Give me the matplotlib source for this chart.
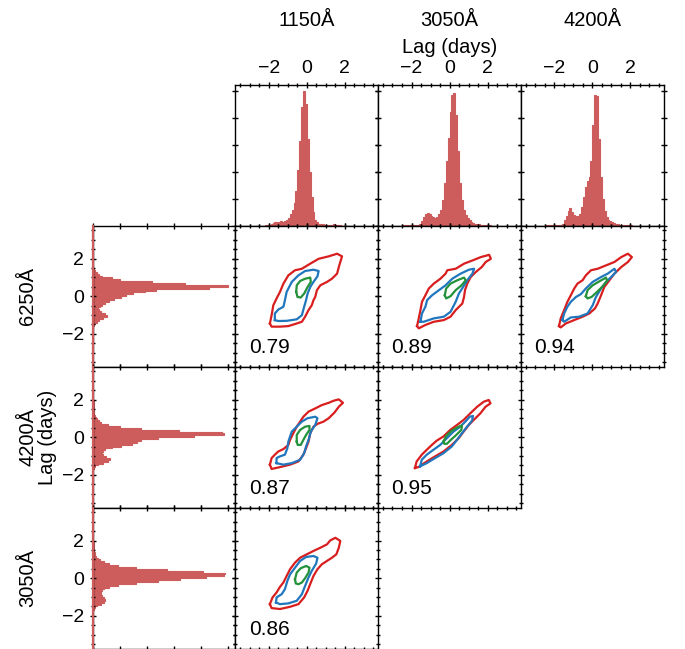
import numpy as np
import matplotlib
matplotlib.use('Agg')
import matplotlib.pyplot as plt
from matplotlib.ticker import MultipleLocator, FixedLocator

plt.rcParams['font.family'] = ['Liberation Sans', 'DejaVu Sans']

# ---------------- data ----------------
col_bands = ['1150Å', '3050Å', '4200Å']
row_bands = ['6250Å', '4200Å', '3050Å']
lag_ticks = [-2, 0, 2]

bin_edges = np.round(np.linspace(-2.5, 2.5, 51), 2)

hist_1150 = [0, 0, 0, 0.002, 0.005, 0.008, 0.012, 0.018, 0.024, 0.028,
             0.030, 0.032, 0.030, 0.032, 0.042, 0.058, 0.085, 0.12, 0.17, 0.26,
             0.41, 0.63, 0.88, 1.00, 0.90, 0.64, 0.40, 0.21, 0.10, 0.045,
             0.025, 0.016, 0.012, 0.010, 0.008, 0.008, 0.007, 0.007, 0.008, 0.010,
             0.008, 0.005, 0.003, 0.001, 0, 0, 0, 0, 0, 0]
hist_3050 = [0.002, 0.002, 0.002, 0.003, 0.003, 0.003, 0.004, 0.005, 0.008, 0.015,
             0.035, 0.065, 0.085, 0.092, 0.085, 0.070, 0.062, 0.060, 0.068, 0.085,
             0.12, 0.19, 0.32, 0.48, 0.65, 0.84, 0.97, 0.98, 0.82, 0.55,
             0.32, 0.19, 0.12, 0.08, 0.055, 0.04, 0.028, 0.02, 0.015, 0.012,
             0.01, 0.008, 0.007, 0.006, 0.005, 0.004, 0.002, 0, 0, 0]
hist_4200 = [0.002, 0.002, 0.002, 0.002, 0.003, 0.003, 0.004, 0.005, 0.008, 0.015,
             0.040, 0.075, 0.11, 0.13, 0.10, 0.078, 0.072, 0.075, 0.09, 0.14,
             0.21, 0.29, 0.33, 0.36, 0.48, 0.75, 0.97, 0.96, 0.64, 0.36,
             0.20, 0.11, 0.065, 0.045, 0.032, 0.024, 0.018, 0.013, 0.010, 0.008,
             0.007, 0.006, 0.006, 0.007, 0.006, 0.004, 0.001, 0, 0, 0]
hist_6250 = [0, 0, 0, 0.001, 0.001, 0.002, 0.002, 0.003, 0.004, 0.008,
             0.020, 0.030, 0.045, 0.075, 0.105, 0.09, 0.058, 0.048, 0.042, 0.055,
             0.068, 0.090, 0.12, 0.16, 0.21, 0.25, 0.30, 0.39, 0.47, 0.86,
             1.00, 0.68, 0.44, 0.20, 0.14, 0.07, 0.048, 0.032, 0.018, 0.010,
             0.004, 0.002, 0, 0, 0, 0, 0, 0, 0, 0]
hist_ticks = [0, 0.2, 0.4, 0.6, 0.8, 1.0]

corr_row1 = [0.79, 0.89, 0.94]
corr_row2 = [0.87, 0.95]
corr_row3 = [0.86]

# contour outlines (x lag, y lag)
# panel x=1150, y=6250
red_1150_6250 = [(-1.94, -1.45), (-1.85, -1.01), (-1.76, -0.48), (-1.59, -0.12), (-1.41, 0.23),
                 (-1.23, 0.67), (-0.97, 1.11), (-0.62, 1.38), (-0.26, 1.46), (0.18, 1.73),
                 (0.62, 1.99), (1.15, 2.12), (1.59, 2.26), (1.85, 2.12), (1.76, 1.82),
                 (1.68, 1.55), (1.59, 1.20), (1.32, 0.93), (1.06, 0.76), (0.71, 0.58),
                 (0.53, 0.32), (0.44, -0.04), (0.35, -0.21), (0.26, -0.48), (0.09, -0.74),
                 (-0.09, -1.09), (-0.26, -1.36), (-0.62, -1.48), (-0.97, -1.59), (-1.41, -1.62),
                 (-1.85, -1.62)]
blue_1150_6250 = [(-1.68, -1.27), (-1.68, -0.92), (-1.50, -0.71), (-1.23, -0.56), (-1.15, -0.21),
                  (-1.06, 0.23), (-0.79, 0.76), (-0.44, 1.11), (-0.09, 1.34), (0.35, 1.41),
                  (0.62, 1.34), (0.56, 1.06), (0.35, 0.76), (0.18, 0.49), (0.04, 0.14),
                  (-0.04, -0.21), (-0.14, -0.56), (-0.26, -1.01), (-0.53, -1.23), (-1.06, -1.31),
                  (-1.50, -1.32)]
green_1150_6250 = [(-0.56, 0.23), (-0.53, 0.58), (-0.35, 0.81), (-0.09, 0.93), (0.18, 0.99),
                   (0.21, 0.76), (0.04, 0.49), (-0.14, 0.14), (-0.32, -0.07), (-0.49, -0.04)]
# panel x=3050, y=6250
red_3050_6250 = [(-1.71, -1.59), (-1.62, -1.18), (-1.53, -0.74), (-1.45, -0.30), (-1.27, 0.05),
                 (-1.09, 0.41), (-0.83, 0.67), (-0.48, 0.93), (-0.21, 1.20), (-0.12, 1.38),
                 (0.32, 1.46), (0.76, 1.73), (1.20, 1.90), (1.64, 2.08), (2.08, 2.20),
                 (2.17, 1.99), (1.90, 1.82), (1.69, 1.55), (1.38, 1.29), (1.11, 1.02),
                 (0.93, 0.67), (0.81, 0.32), (0.76, -0.04), (0.67, -0.39), (0.32, -0.74),
                 (0.05, -1.09), (-0.30, -1.27), (-0.83, -1.36), (-1.27, -1.53), (-1.62, -1.71)]
blue_3050_6250 = [(-1.53, -1.36), (-1.45, -0.92), (-1.27, -0.56), (-1.18, -0.21), (-0.92, 0.05),
                  (-0.56, 0.32), (-0.21, 0.58), (0.14, 0.93), (0.58, 1.20), (1.02, 1.41),
                  (1.29, 1.46), (1.20, 1.20), (0.93, 0.85), (0.71, 0.49), (0.49, 0.14),
                  (0.32, -0.30), (0.05, -0.83), (-0.30, -1.09), (-0.83, -1.18), (-1.36, -1.36)]
green_3050_6250 = [(-0.25, 0.05), (-0.18, 0.41), (0.05, 0.67), (0.41, 0.85), (0.76, 0.99),
                   (0.85, 0.85), (0.63, 0.58), (0.32, 0.32), (0.05, 0.00), (-0.18, -0.12)]
# panel x=4200, y=6250
red_4200_6250 = [(-1.75, -1.59), (-1.66, -1.18), (-1.48, -0.74), (-1.31, -0.30), (-1.13, 0.05),
                 (-0.95, 0.41), (-0.78, 0.67), (-0.51, 0.85), (-0.34, 1.11), (-0.07, 1.38),
                 (0.28, 1.46), (0.72, 1.64), (1.16, 1.82), (1.52, 2.08), (1.87, 2.26),
                 (2.08, 2.08), (1.87, 1.82), (1.52, 1.55), (1.16, 1.20), (0.90, 0.85),
                 (0.63, 0.49), (0.46, 0.05), (0.28, -0.39), (0.14, -0.65), (-0.16, -0.92),
                 (-0.51, -1.09), (-0.95, -1.27), (-1.39, -1.45), (-1.66, -1.66)]
blue_4200_6250 = [(-1.57, -1.27), (-1.48, -0.92), (-1.31, -0.56), (-1.13, -0.30), (-0.86, -0.04),
                  (-0.60, 0.11), (-0.34, 0.41), (0.02, 0.76), (0.46, 1.02), (0.81, 1.20),
                  (1.16, 1.46), (1.25, 1.29), (0.99, 1.02), (0.72, 0.76), (0.46, 0.41),
                  (0.19, -0.04), (0.02, -0.48), (-0.25, -0.92), (-0.69, -1.09), (-1.13, -1.13),
                  (-1.48, -1.36)]
green_4200_6250 = [(-0.34, 0.00), (-0.25, 0.32), (0.02, 0.58), (0.37, 0.79), (0.72, 0.99),
                   (0.78, 0.81), (0.55, 0.53), (0.25, 0.23), (-0.04, -0.04), (-0.25, -0.12)]
# panel x=1150, y=4200
red_1150_4200 = [(-1.94, -1.46), (-1.85, -1.11), (-1.68, -0.93), (-1.50, -0.76), (-1.23, -0.63),
                 (-0.97, -0.41), (-0.88, -0.14), (-0.71, 0.21), (-0.53, 0.56), (-0.35, 0.83),
                 (-0.18, 1.09), (0.09, 1.36), (0.44, 1.53), (0.79, 1.71), (1.15, 1.83),
                 (1.41, 1.94), (1.68, 2.01), (1.90, 1.83), (1.68, 1.62), (1.45, 1.31),
                 (1.15, 1.01), (0.88, 0.83), (0.56, 0.71), (0.35, 0.56), (0.18, 0.21),
                 (0.09, -0.23), (-0.04, -0.58), (-0.18, -0.93), (-0.44, -1.29), (-0.88, -1.46),
                 (-1.41, -1.59), (-1.85, -1.69)]
blue_1150_4200 = [(-1.59, -1.38), (-1.59, -1.11), (-1.41, -1.02), (-1.15, -0.93), (-1.02, -0.58),
                  (-0.97, -0.23), (-0.79, 0.30), (-0.53, 0.56), (-0.26, 0.83), (0.04, 1.01),
                  (0.44, 1.09), (0.56, 1.01), (0.44, 0.65), (0.21, 0.30), (0.09, -0.14),
                  (-0.04, -0.49), (-0.14, -0.85), (-0.35, -1.20), (-0.79, -1.38), (-1.23, -1.46)]
green_1150_4200 = [(-0.53, -0.23), (-0.53, 0.12), (-0.35, 0.39), (-0.09, 0.56), (0.14, 0.60),
                   (0.14, 0.39), (-0.04, 0.12), (-0.18, -0.14), (-0.32, -0.41), (-0.48, -0.41)]
# panel x=3050, y=4200
red_3050_4200 = [(-1.82, -1.64), (-1.73, -1.29), (-1.46, -0.93), (-1.20, -0.67), (-0.93, -0.41),
                 (-0.67, -0.18), (-0.32, 0.04), (0.04, 0.39), (0.39, 0.65), (0.74, 0.92),
                 (1.09, 1.27), (1.45, 1.62), (1.80, 1.89), (2.06, 1.98), (2.15, 1.80),
                 (1.89, 1.62), (1.62, 1.27), (1.27, 0.92), (1.01, 0.65), (0.74, 0.30),
                 (0.48, -0.05), (0.12, -0.41), (-0.32, -0.76), (-0.76, -1.02), (-1.20, -1.29),
                 (-1.64, -1.59)]
blue_3050_4200 = [(-1.55, -1.55), (-1.46, -1.20), (-1.20, -0.93), (-0.85, -0.67), (-0.49, -0.41),
                  (-0.14, -0.05), (0.21, 0.30), (0.56, 0.56), (0.83, 0.83), (1.06, 1.09),
                  (1.23, 1.13), (1.18, 0.88), (0.92, 0.56), (0.65, 0.21), (0.39, -0.14),
                  (0.12, -0.49), (-0.32, -0.85), (-0.76, -1.11), (-1.20, -1.38)]
green_3050_4200 = [(-0.32, -0.23), (-0.18, 0.07), (0.12, 0.35), (0.48, 0.56), (0.65, 0.62),
                   (0.62, 0.39), (0.35, 0.12), (0.07, -0.14), (-0.14, -0.35), (-0.28, -0.35)]
# panel x=1150, y=3050
red_1150_3050 = [(-1.94, -1.38), (-1.80, -1.02), (-1.59, -0.76), (-1.41, -0.46), (-1.23, -0.23),
                 (-1.06, 0.12), (-0.88, 0.48), (-0.62, 0.83), (-0.35, 1.09), (0.00, 1.27),
                 (0.35, 1.45), (0.71, 1.62), (1.06, 1.80), (1.23, 2.01), (1.50, 2.15),
                 (1.76, 1.98), (1.68, 1.62), (1.55, 1.27), (1.32, 1.09), (1.06, 0.92),
                 (0.79, 0.74), (0.56, 0.48), (0.35, 0.12), (0.21, -0.23), (0.04, -0.67),
                 (-0.14, -1.02), (-0.44, -1.38), (-0.88, -1.52), (-1.41, -1.64), (-1.85, -1.59)]
blue_1150_3050 = [(-1.62, -1.29), (-1.59, -1.02), (-1.32, -0.85), (-1.15, -0.58), (-1.02, -0.14),
                  (-0.88, 0.21), (-0.62, 0.56), (-0.35, 0.92), (-0.04, 1.13), (0.35, 1.18),
                  (0.56, 1.09), (0.49, 0.78), (0.26, 0.39), (0.09, 0.04), (-0.09, -0.41),
                  (-0.26, -0.85), (-0.53, -1.20), (-0.97, -1.34), (-1.41, -1.38)]
green_1150_3050 = [(-0.62, -0.05), (-0.53, 0.30), (-0.32, 0.53), (-0.04, 0.65), (0.14, 0.56),
                   (0.09, 0.30), (-0.09, 0.00), (-0.26, -0.23), (-0.44, -0.32), (-0.58, -0.28)]

hists = {'1150Å': hist_1150, '3050Å': hist_3050, '4200Å': hist_4200, '6250Å': hist_6250}
panels = {
    (0, 0): (red_1150_6250, blue_1150_6250, green_1150_6250),
    (0, 1): (red_3050_6250, blue_3050_6250, green_3050_6250),
    (0, 2): (red_4200_6250, blue_4200_6250, green_4200_6250),
    (1, 0): (red_1150_4200, blue_1150_4200, green_1150_4200),
    (1, 1): (red_3050_4200, blue_3050_4200, green_3050_4200),
    (2, 0): (red_1150_3050, blue_1150_3050, green_1150_3050),
}
corrs = [corr_row1, corr_row2, corr_row3]

# ---------------- layout / style ----------------
HIST_COLOR = '#cd5c5c'
LINE_COLORS = ['#d81e1e', '#2177bd', '#23923a']
W, H = 685, 649
col_left = [92.7, 235.45, 378.2, 520.95]
row_top = [84.7, 225.7, 366.7, 507.7]
CW, RH = 142.75, 141.0
LIM = 3.75
TICK_FS = 14
TITLE_FS = 14.5
CORR_FS = 15

fig = plt.figure(figsize=(W / 100, H / 100), dpi=100)


def add_ax(ci, ri):
    return fig.add_axes([col_left[ci] / W, 1 - (row_top[ri] + RH) / H, CW / W, RH / H])


def style(ax):
    ax.tick_params(which='both', direction='inout', top=True, bottom=True, left=True,
                   right=True, labelbottom=False, labelleft=False, labeltop=False,
                   labelright=False, width=1.0, colors='black', labelsize=TICK_FS)
    ax.tick_params(which='major', length=5, pad=3.0)
    ax.tick_params(which='minor', length=3)
    for s in ax.spines.values():
        s.set_linewidth(1.0)


bin_lefts = bin_edges[:-1]
bin_widths = np.diff(bin_edges)

# top histograms
for j, band in enumerate(col_bands):
    ax = add_ax(j + 1, 0)
    ax.bar(bin_lefts, hists[band], width=bin_widths, align='edge',
           color=HIST_COLOR, edgecolor=HIST_COLOR, linewidth=0.8)
    ax.set_xlim(-LIM, LIM)
    ax.set_ylim(0, 1.045)
    ax.xaxis.set_major_locator(FixedLocator(lag_ticks))
    ax.xaxis.set_minor_locator(MultipleLocator(0.5))
    ax.yaxis.set_major_locator(FixedLocator(hist_ticks))
    style(ax)
    ax.tick_params(labeltop=True)

# left histograms
for i, band in enumerate(row_bands):
    ax = add_ax(0, i + 1)
    ax.barh(bin_lefts, hists[band], height=bin_widths, align='edge',
            color=HIST_COLOR, edgecolor=HIST_COLOR, linewidth=0.8)
    ax.axvline(0, color=HIST_COLOR, lw=1.6, clip_on=False, zorder=3)
    ax.set_ylim(-LIM, LIM)
    ax.set_xlim(0, 1.057)
    ax.yaxis.set_major_locator(FixedLocator(lag_ticks))
    ax.yaxis.set_minor_locator(MultipleLocator(0.5))
    ax.xaxis.set_major_locator(FixedLocator(hist_ticks))
    style(ax)
    ax.tick_params(labelleft=True, pad=3.5)

# contour panels
for (ri, ci), outlines in panels.items():
    ax = add_ax(ci + 1, ri + 1)
    for pts, colr in zip(outlines, LINE_COLORS):
        xs = [p[0] for p in pts] + [pts[0][0]]
        ys = [p[1] for p in pts] + [pts[0][1]]
        ax.plot(xs, ys, color=colr, lw=1.6, solid_joinstyle='round')
    ax.set_xlim(-LIM, LIM)
    ax.set_ylim(-LIM, LIM)
    for axis in (ax.xaxis, ax.yaxis):
        axis.set_major_locator(FixedLocator(lag_ticks))
        axis.set_minor_locator(MultipleLocator(0.5))
    style(ax)
    ax.text(0.093, 0.10, f'{corrs[ri][ci]:.2f}', transform=ax.transAxes,
            fontsize=CORR_FS, ha='left', va='baseline')

# column titles
for j, band in enumerate(col_bands):
    fig.text((col_left[j + 1] + CW / 2) / W, 1 - 25.7 / H, band, fontsize=TITLE_FS,
             ha='center', va='baseline')
fig.text((col_left[2] + CW / 2) / W, 1 - 52.7 / H, 'Lag (days)', fontsize=TITLE_FS,
         ha='center', va='baseline')

# row titles
for i, band in enumerate(row_bands):
    fig.text(33.3 / W, 1 - (row_top[i + 1] + RH / 2) / H, band, fontsize=TITLE_FS,
             rotation=90, rotation_mode='anchor', ha='center', va='baseline')
fig.text(52.7 / W, 1 - (row_top[2] + RH / 2) / H, 'Lag (days)', fontsize=TITLE_FS,
         rotation=90, rotation_mode='anchor', ha='center', va='baseline')

fig.savefig('out.png', dpi=100)
